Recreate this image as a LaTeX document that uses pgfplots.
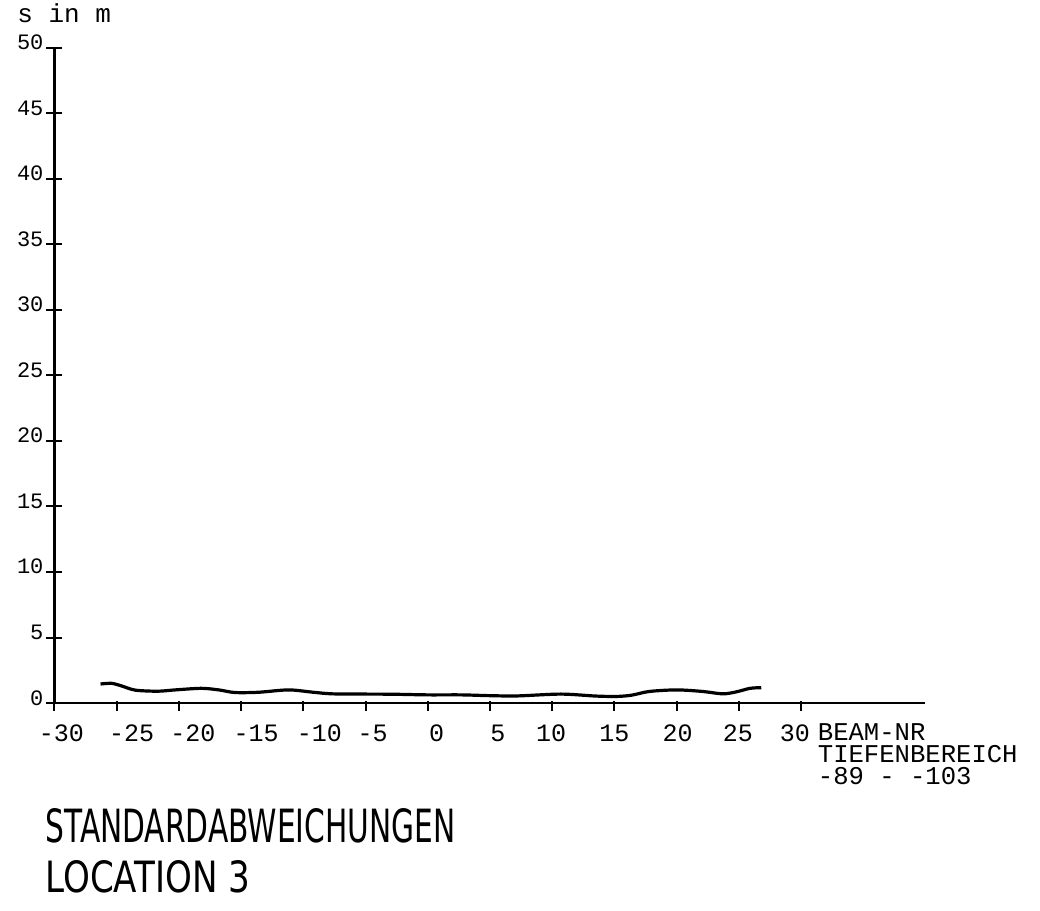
\documentclass[border=0pt]{standalone}
\usepackage{fontspec}
\setmainfont{Liberation Mono}
\newfontfamily\titlefont{DejaVu Sans}
\usepackage{graphicx}
\usepackage{pgfplots}
\pgfplotsset{compat=1.18}
\begin{document}
\begin{tikzpicture}
\path (-27.25pt,-104pt) rectangle (492.75pt,351.5pt);
\begin{axis}[
  at={(0pt,0pt)}, anchor=south west,
  scale only axis,
  width=435.5pt, height=327.5pt,
  xmin=-30, xmax=40, ymin=0, ymax=50,
  axis x line=bottom, axis y line=left,
  axis line style={-, line width=1.4pt},
  clip=false,
  tick align=center,
  major tick length=8pt,
  tick style={black, line width=1pt},
  xtick={-30,-25,...,30},
  xticklabels={},
  xtick style={/pgfplots/major tick length=5pt, yshift=-1.5pt},
  extra x ticks={-29.44,-23.8,-18.88,-13.8,-8.71,-4.44,0.72,5.64,9.92,15,20.08,24.92,29.5},
  extra x tick labels={-30,-25,-20,-15,-10,-5,0,5,10,15,20,25,30},
  extra x tick style={tick style={draw=none}},
  xticklabel style={font=\fontsize{12.5}{14}\selectfont, anchor=base, yshift=-15pt},
  ytick={0,5,...,50},
  yticklabel style={font=\fontsize{11}{13}\selectfont, anchor=base east, xshift=2pt, yshift=-1pt},
  /pgf/number format/assume math mode=true,
]
\addplot[black, line width=1.6pt, smooth, tension=0.5] coordinates {
(-26.3,1.45) (-25.4,1.5) (-24.6,1.3) (-23.5,0.98) (-21.7,0.9) (-20.3,1.0)
(-18.2,1.12) (-16.8,1.0) (-15.5,0.8) (-13.6,0.82) (-11.2,1.0) (-9.3,0.83)
(-7.7,0.7) (-5,0.68) (-2.8,0.67) (0,0.62) (2.7,0.62) (5,0.56) (7.2,0.54)
(10.7,0.68) (13.5,0.53) (15.2,0.5) (16.4,0.6) (17.8,0.88) (20.0,1.0)
(22.1,0.88) (23.7,0.7) (24.8,0.85) (25.9,1.12) (26.8,1.17)
};
\end{axis}
\node[anchor=base west, inner sep=0pt, font=\fontsize{13}{15}\selectfont] at (-18.75pt,340pt) {s in m};
\node[anchor=base west, inner sep=0pt, align=left, font=\fontsize{12.8}{11}\selectfont] at (381.5pt,-40.5pt) {BEAM-NR\\TIEFENBEREICH\\-89 - -103};
\node[anchor=base west, inner sep=0pt] at (-4.75pt,-69.5pt) {\resizebox{205pt}{17pt}{\titlefont STANDARDABWEICHUNGEN}};
\node[anchor=base west, inner sep=0pt] at (-4.75pt,-94.5pt) {\resizebox{102.5pt}{16pt}{\titlefont LOCATION 3}};
\end{tikzpicture}
\end{document}
